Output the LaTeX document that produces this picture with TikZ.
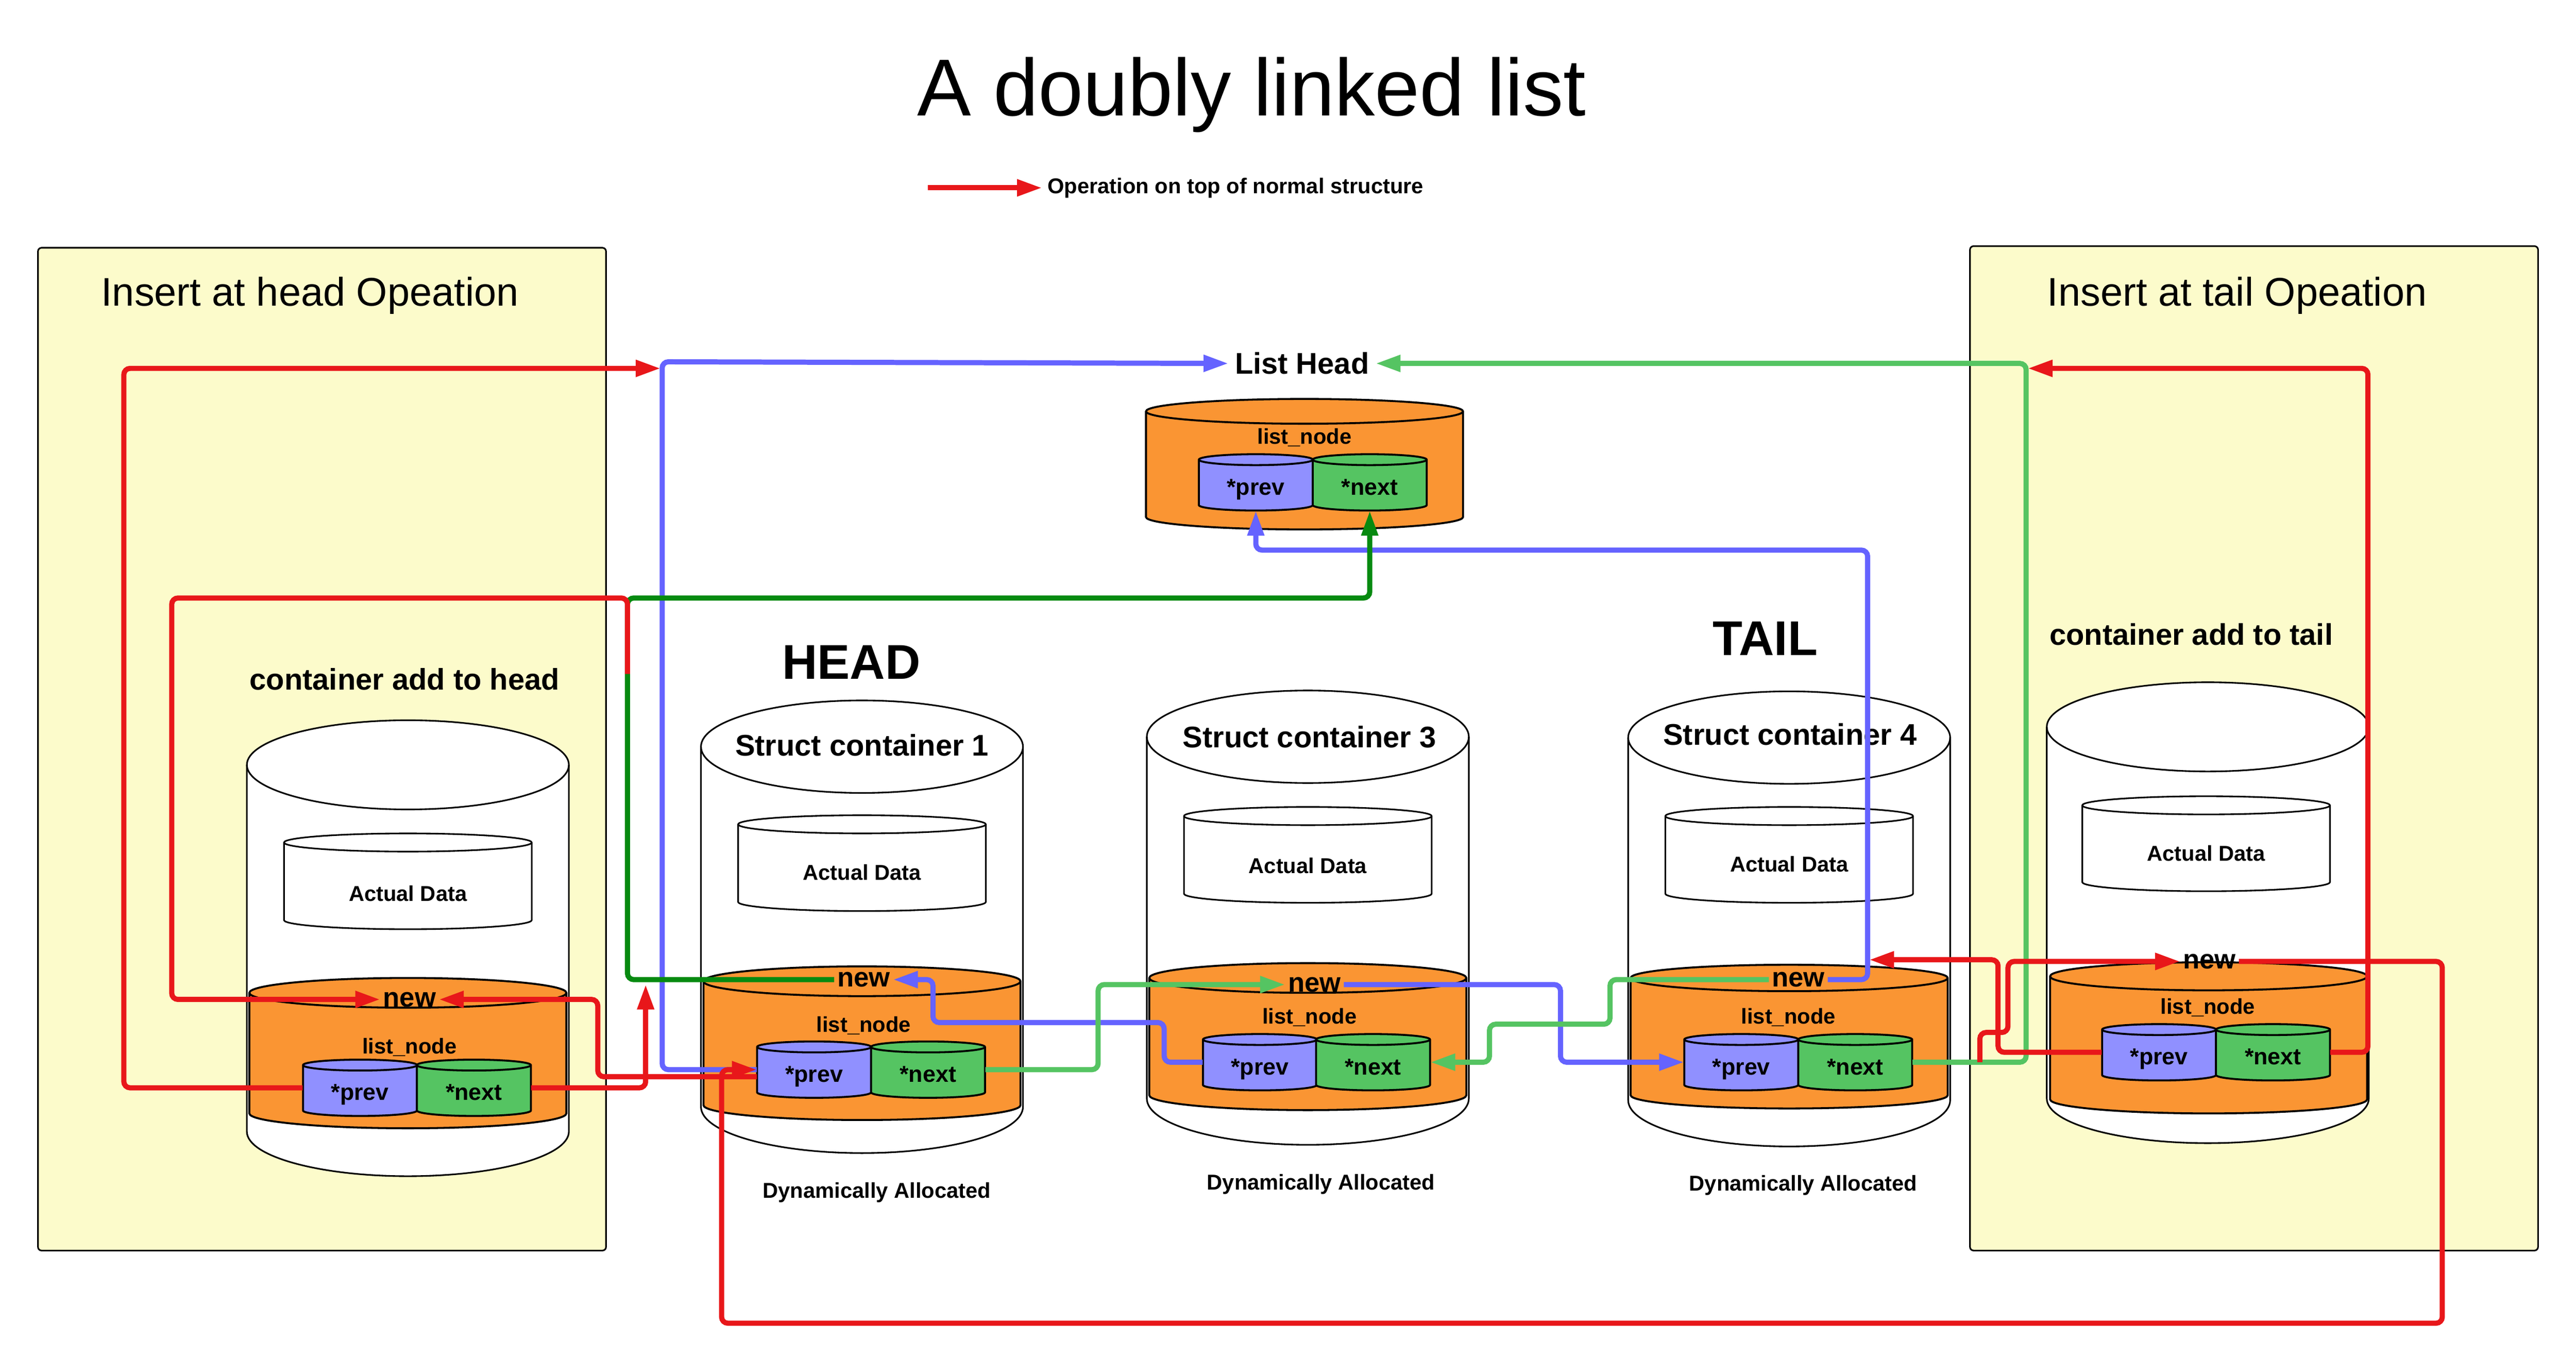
\documentclass[tikz,border=0pt]{standalone}
\usepackage{fontspec}
\setmainfont{Liberation Sans}
\usepackage{xcolor}
\usepackage{tikz}
\usetikzlibrary{arrows.meta}

\definecolor{panelyellow}{HTML}{FCFBCB}
\definecolor{listorange}{HTML}{FA9533}
\definecolor{prevblue}{HTML}{9090FF}
\definecolor{nextgreen}{HTML}{55C462}
\definecolor{lineblue}{HTML}{6563FF}
\definecolor{linegreen}{HTML}{55C462}
\definecolor{darkgreen}{HTML}{078A10}
\definecolor{opred}{HTML}{E8171A}

% cylinder: style, cx, top, bottom, x radius, y radius
\newcommand{\drum}[6]{%
  \draw[#1] ({#2-#5},#3) -- ({#2-#5},#4)
    arc[start angle=180,end angle=0,x radius=#5,y radius=#6]
    -- ({#2+#5},#3)
    arc[start angle=0,end angle=-180,x radius=#5,y radius=#6] -- cycle;
  \draw[#1,fill=none] ({#2-#5},#3)
    arc[start angle=180,end angle=0,x radius=#5,y radius=#6];
}
% pointer cylinder with its named node: name, cx, cy, fill, text
\newcommand{\ptrcyl}[5]{%
  \drum{ptrbox,fill=#4}{#2}{#3-13.75}{#3+13.75}{34.5}{3.3}
  \node[ptr] (#1) at (#2,#3) {#5};
}

\begin{document}
\begin{tikzpicture}[x=0.0327cm, y=-0.0327cm,
    panel/.style={draw=black, line width=0.9pt, fill=panelyellow, rounded corners=2pt},
    box/.style={draw=black, line width=0.9pt, fill=white},
    nodebox/.style={draw=black, line width=1.1pt, fill=listorange},
    ptrbox/.style={draw=black, line width=1.1pt},
    txt/.style={inner sep=1pt, font=\bfseries\fontsize{12.1}{14}\selectfont},
    bigtxt/.style={inner sep=1pt, font=\bfseries\fontsize{16.8}{20}\selectfont},
    hugetxt/.style={inner sep=1pt, font=\bfseries\fontsize{27.5}{32}\selectfont},
    paneltxt/.style={inner sep=1pt, anchor=west, font=\fontsize{22.5}{27}\selectfont},
    newlbl/.style={inner sep=1.5pt, font=\bfseries\fontsize{15.3}{18}\selectfont},
    ptr/.style={inner sep=0pt, minimum width=2.256cm, minimum height=0.9cm,
                text height=14pt, text depth=0pt,
                font=\bfseries\fontsize{13}{15}\selectfont},
    conn/.style={line width=2.9pt, rounded corners=3.5pt},
    arr/.style={-{Triangle[length=14pt,width=9pt]}}]
    \useasboundingbox (0,0) rectangle (1560,820);
    \fill[white] (0,0) rectangle (1560,820);

    % title and legend
    \node[anchor=base, inner sep=0pt, font=\fontsize{45.5}{52}\selectfont] (title) at (758,70) {A doubly linked list};
    \node[txt, anchor=west, inner sep=3pt] (legend) at (631,113.7) {Operation on top of normal structure};
    \coordinate (lg) at (562,113.7);

    % the two operation panels
    \draw[panel] (23,150) rectangle (367,757);
    \draw[panel] (1193,149) rectangle (1537,757);
    \node[paneltxt] (phead) at (60,179) {Insert at head Opeation};
    \node[paneltxt] (ptail) at (1238.5,179) {Insert at tail Opeation};

    % list head
    \node[bigtxt, inner sep=3.5pt] (lh) at (788.5,220) {List Head};
    \drum{nodebox}{790}{249}{313}{96}{7.5}
    \node[txt] (lnl) at (790,265) {list\_node};
    \ptrcyl{prevl}{760.5}{292}{prevblue}{*prev}
    \ptrcyl{nextl}{829.5}{292}{nextgreen}{*next}

    % container added at head
    \node[bigtxt] (addh) at (245,411) {container add to head};
    \drum{box}{247}{463}{685}{97.5}{27}
    \drum{box}{247}{510}{557}{75}{5.5}
    \node[txt] (adh) at (247,541) {Actual Data};
    \drum{nodebox}{247}{601}{674}{96}{9}
    \node[newlbl] (newh) at (248,605) {new};
    \node[txt] (lnh) at (248,634) {list\_node};
    \ptrcyl{prevh}{218}{658.5}{prevblue}{*prev}
    \ptrcyl{nexth}{287}{658.5}{nextgreen}{*next}

    % container 1
    \node[hugetxt] (head) at (515.5,401) {HEAD};
    \drum{box}{522}{452}{670}{97.5}{28}
    \node[bigtxt] (sc1) at (522,451) {Struct container 1};
    \drum{box}{522}{499}{546}{75}{5.5}
    \node[txt] (ad1) at (522,528) {Actual Data};
    \drum{nodebox}{522}{594}{669}{96}{9}
    \node[newlbl] (new1) at (523,593) {new};
    \node[txt] (ln1) at (523,621) {list\_node};
    \ptrcyl{prev1}{493}{647.5}{prevblue}{*prev}
    \ptrcyl{next1}{562}{647.5}{nextgreen}{*next}
    \node[txt] (da1) at (531,722) {Dynamically Allocated};

    % container 3
    \drum{box}{792}{446}{665}{97.5}{28}
    \node[bigtxt] (sc3) at (793,446) {Struct container 3};
    \drum{box}{792}{494}{541}{75}{5.5}
    \node[txt] (ad3) at (792,524) {Actual Data};
    \drum{nodebox}{792}{592}{663}{96}{9}
    \node[newlbl] (new3) at (796,596) {new};
    \node[txt] (ln3) at (793,616) {list\_node};
    \ptrcyl{prev3}{763}{643}{prevblue}{*prev}
    \ptrcyl{next3}{831.5}{643}{nextgreen}{*next}
    \node[txt] (da3) at (800,717) {Dynamically Allocated};

    % container 4
    \node[hugetxt] (tail) at (1069,386.5) {TAIL};
    \drum{box}{1083.5}{446.5}{666}{97.5}{28}
    \node[bigtxt] (sc4) at (1084,444.5) {Struct container 4};
    \drum{box}{1083.5}{494}{541}{75}{5.5}
    \node[txt] (ad4) at (1083.5,523) {Actual Data};
    \drum{nodebox}{1083.5}{592}{663}{96}{8}
    \node[newlbl] (new4) at (1089,593) {new};
    \node[txt] (ln4) at (1083,616) {list\_node};
    \ptrcyl{prev4}{1054.5}{643}{prevblue}{*prev}
    \ptrcyl{next4}{1123.5}{643}{nextgreen}{*next}
    \node[txt] (da4) at (1092,717.5) {Dynamically Allocated};

    % container added at tail
    \node[bigtxt] (addt) at (1327,384) {container add to tail};
    \drum{box}{1337}{440}{665}{97.5}{27}
    \drum{box}{1336}{487.5}{534}{75}{5.5}
    \node[txt] (adt) at (1336,516.5) {Actual Data};
    \drum{nodebox}{1337.5}{591}{665.5}{96}{8.5}
    \node[newlbl] (newt) at (1338,582) {new};
    \node[txt] (lnt) at (1337,610) {list\_node};
    \ptrcyl{prevt}{1307.5}{637}{prevblue}{*prev}
    \ptrcyl{nextt}{1376.5}{637}{nextgreen}{*next}

    % normal structure
    \draw[conn, lineblue, arr] (prev1.west) -| (401,219) -- (lh.west);
    \draw[conn, lineblue, arr] (new4.east) -| (1131,333) -| ([yshift=-3pt]prevl.south);
    \draw[conn, lineblue, arr] (prev3.west) -| (705,619) -| (565,593) -- (new1.east);
    \draw[conn, lineblue, arr] (new3.east) -| (945,643) -- (prev4.west);
    \draw[conn, linegreen, arr] (next1.east) -| (665,596) -- (new3.west);
    \draw[conn, linegreen, arr] (new4.west) -| (975,620) -| (902,643) -- (next3.east);
    \draw[conn, linegreen, arr] (next4.east) -| (1227,220) -- (lh.east);
    \draw[conn, darkgreen, arr] (new1.west) -| (380,362) -| ([yshift=-3pt]nextl.south);

    % operations
    \coordinate (hb) at (400,223);
    \coordinate (gj) at (391,596);
    \coordinate (gs) at (380,408);
    \coordinate (tj) at (1132,581);
    \coordinate (gq) at (1199,643);
    \coordinate (tb) at (1228,223);
    \draw[conn, opred, arr] (lg) -- (legend.west);
    \draw[conn, opred, arr] (prevh.west) -| (75,223) -- (hb);
    \draw[conn, opred, arr] (nexth.east) -| (gj);
    \draw[conn, opred, arr] ([yshift=-4pt]prev1.west) -| (362,605) -- (newh.east);
    \draw[conn, opred, arr] (gs) |- (104,362) |- (newh.west);
    \draw[conn, opred, arr] (newt.east) -| (1479,801) -| (437,647.5) -- (prev1.west);
    \draw[conn, opred, arr] (prevt.west) -| (1210,581) -- (tj);
    \draw[conn, opred, arr] (gq) |- (1216,625) |- (newt.west);
    \draw[conn, opred, arr] (nextt.east) -| (1434,223) -- (tb);
\end{tikzpicture}
\end{document}
